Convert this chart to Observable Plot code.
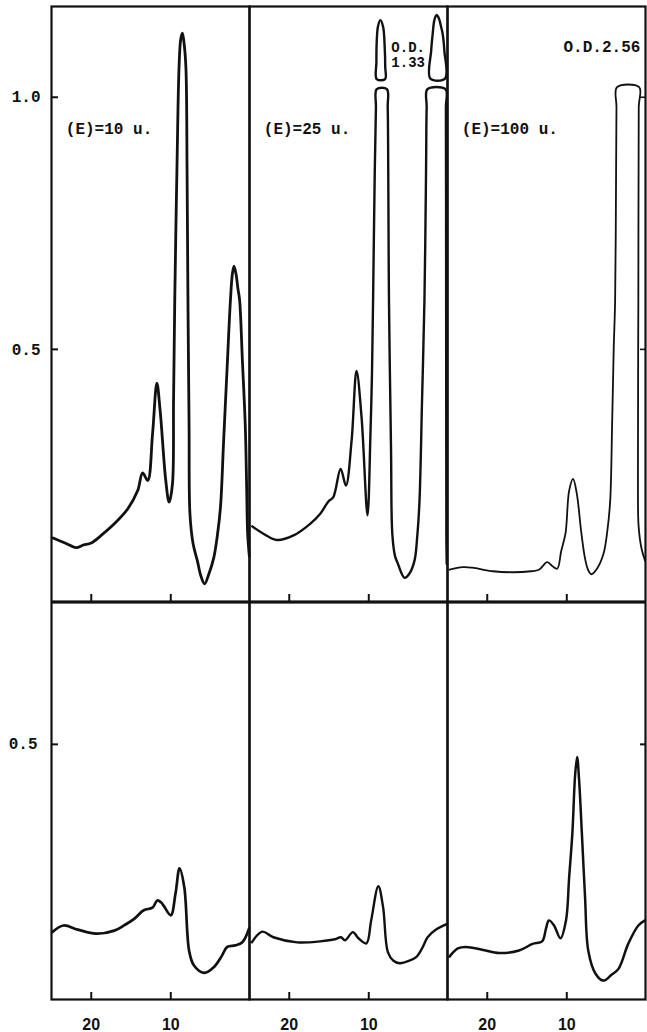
<!DOCTYPE html>
<html><head><meta charset="utf-8">
<script src="https://cdn.jsdelivr.net/npm/d3@7"></script>
<script src="https://cdn.jsdelivr.net/npm/@observablehq/plot@0.6"></script>
<style>
html,body{margin:0;padding:0;background:#fff;}
#chart svg{display:block;}
</style></head><body><div id="chart"></div>
<script>
// Panels (enzyme amount)
const panels = ["(E)=10 u.", "(E)=25 u.", "(E)=100 u."];
const xTicks = [20, 10];
const topYTicks = [0.5, 1.0];
const bottomYTicks = [0.5];
const odLabel25 = ["O.D.\n1.33"];
const odLabel100 = ["O.D.2.56"];

// Top row: [fraction, O.D.]
const topA = [[24.8,0.126],[23.3,0.116],[21.9,0.107],[21.0,0.112],[20.0,0.116],[18.75,0.131],[17.1,0.154],[15.4,0.184],[14.16,0.22],[13.54,0.255],[12.9,0.24],[12.29,0.333],[11.75,0.433],[11.34,0.379],[10.63,0.24],[10.21,0.197],[9.79,0.233],[9.65,0.4],[9.5,0.597],[9.2,0.88],[8.96,1.06],[8.75,1.115],[8.54,1.127],[8.35,1.11],[8.1,1.06],[7.95,0.85],[7.84,0.597],[7.7,0.35],[7.59,0.174],[7.2,0.115],[6.66,0.081],[6.2,0.05],[5.75,0.035],[5.2,0.055],[4.59,0.087],[4.15,0.13],[3.75,0.187],[3.35,0.32],[2.91,0.465],[2.5,0.597],[2.25,0.65],[2.05,0.665],[1.8,0.65],[1.55,0.62],[1.34,0.597],[1.0,0.48],[0.625,0.346],[0.45,0.22],[0.33,0.134],[0.12,0.09]];
const topB = [[24.66,0.149],[23.2,0.134],[21.54,0.122],[19.46,0.131],[17.375,0.154],[16.1,0.174],[15.1,0.198],[14.46,0.207],[13.54,0.263],[12.875,0.23],[12.16,0.319],[11.54,0.457],[10.91,0.366],[10.16,0.171],[9.79,0.333],[9.6,0.45],[9.46,0.597],[9.25,0.85],[9.1,0.98],[9.0,1.016],[7.72,1.016],[7.62,0.98],[7.55,0.85],[7.46,0.597],[7.2,0.3],[7.04,0.134],[6.7,0.09],[6.34,0.075],[5.5,0.047],[4.9,0.055],[4.25,0.081],[3.9,0.13],[3.625,0.198],[3.3,0.4],[3.0,0.597],[2.8,0.85],[2.72,0.98],[2.62,1.016],[0.35,1.016],[0.3,0.98],[0.28,0.8],[0.26,0.4],[0.24,0.12],[0.2,0.075]];
const topC = [[24.75,0.063],[23.1,0.068],[21.9,0.067],[19.3,0.06],[16.8,0.058],[14.5,0.06],[13.5,0.063],[12.46,0.078],[11.8,0.07],[11.2,0.065],[10.7,0.1],[10.16,0.135],[9.7,0.22],[9.21,0.243],[8.75,0.215],[8.16,0.135],[7.7,0.085],[7.3,0.062],[6.91,0.054],[6.2,0.065],[5.375,0.095],[4.9,0.14],[4.54,0.2],[4.3,0.35],[4.1,0.5],[3.92,0.597],[3.8,0.85],[3.75,0.98],[3.68,1.02],[0.9,1.02],[0.95,0.98],[1.0,0.6],[1.05,0.25],[0.97,0.15],[0.6,0.105],[0.16,0.081]];

// Off-scale peak tips (recorder re-zeroed), panel (E)=25 u.
const tipA = [[9.0,1.036],[9.04,1.07],[9.0,1.11],[8.85,1.14],[8.55,1.153],[8.2,1.14],[8.0,1.1],[7.93,1.06],[7.95,1.036]];
const tipB = [[2.25,1.037],[2.15,1.093],[1.96,1.126],[1.75,1.153],[1.46,1.163],[1.15,1.155],[0.91,1.14],[0.71,1.126],[0.5,1.093],[0.41,1.037]];

// Bottom row
const botA = [[24.9,0.132],[23.5,0.145],[21.7,0.137],[19.4,0.129],[17.1,0.135],[15.8,0.146],[14.6,0.158],[13.4,0.175],[12.3,0.18],[11.7,0.194],[11.2,0.19],[10.9,0.184],[10.0,0.165],[9.4,0.208],[8.9,0.257],[8.3,0.22],[7.7,0.096],[7.1,0.067],[5.8,0.052],[4.6,0.063],[3.6,0.085],[2.9,0.103],[1.9,0.106],[1.0,0.112],[0.15,0.139]];
const botB = [[24.7,0.112],[23.4,0.133],[22.0,0.122],[19.0,0.112],[16.1,0.114],[14.25,0.118],[13.5,0.122],[13.0,0.116],[12.0,0.132],[11.3,0.12],[10.3,0.11],[9.7,0.155],[8.8,0.222],[8.2,0.181],[7.6,0.093],[6.9,0.076],[6.1,0.071],[4.9,0.076],[4.04,0.083],[3.3,0.1],[2.6,0.122],[1.54,0.137],[0.15,0.148]];
const botC = [[24.75,0.084],[23.7,0.1],[22.7,0.103],[20.5,0.097],[18.5,0.091],[16.0,0.096],[14.3,0.109],[13.1,0.114],[12.6,0.14],[12.25,0.155],[11.6,0.145],[10.8,0.12],[10.1,0.155],[9.7,0.24],[9.3,0.325],[8.95,0.44],[8.7,0.475],[8.45,0.43],[8.1,0.325],[7.7,0.2],[7.3,0.096],[6.4,0.051],[5.4,0.037],[4.4,0.048],[3.5,0.06],[2.25,0.11],[1.0,0.145],[0.16,0.155]];

// ---- build tables ----
const toRows = (arr, panel, extra = {}) => arr.map(([x, y]) => ({panel, x, y, ...extra}));
const topData = [...toRows(topA, panels[0]), ...toRows(topB, panels[1]), ...toRows(topC, panels[2])];
const tipData = [...toRows(tipA, panels[1], {tip: "a"}), ...toRows(tipB, panels[1], {tip: "b"})];
const botData = [...toRows(botA, panels[0]), ...toRows(botB, panels[1]), ...toRows(botC, panels[2])];

const topWidths = [2.8, 2.4, 1.8];
const botWidths = [2.7, 2.4, 2.5];
const mono = "'Liberation Mono', 'DejaVu Sans Mono', monospace";
const sans = "'Liberation Sans', Arial, sans-serif";
const ink = "#111";

const topPlot = Plot.plot({
  width: 647, height: 602,
  marginLeft: 50, marginRight: 1, marginTop: 6, marginBottom: 1,
  x: {domain: [25, 0.1], axis: null},
  y: {domain: [0, 1.18], axis: null},
  fx: {domain: panels, padding: 0, axis: null},
  style: {background: "#fff", color: ink},
  marks: [
    Plot.frame({stroke: ink, strokeWidth: 2.2}),
    Plot.axisX({ticks: xTicks, tickSize: -7, tickFormat: () => "", strokeWidth: 2, label: null}),
    Plot.axisY({ticks: topYTicks, anchor: "left", tickSize: -7, tickPadding: 18, tickFormat: d => d.toFixed(1),
      fontFamily: mono, fontWeight: "bold", fontSize: 16, strokeWidth: 2, label: null}),
    Plot.axisY({ticks: topYTicks, anchor: "right", tickSize: -6, tickFormat: () => "", strokeWidth: 1.6, label: null}),
    Plot.text(panels, {fx: d => d, x: 23.2, y: 0.938, text: d => d, textAnchor: "start",
      fontFamily: mono, fontWeight: "bold", fontSize: 16, fill: ink}),
    Plot.text(odLabel25, {fx: () => panels[1], x: 7.16, y: 1.085, text: d => d, textAnchor: "start", lineAnchor: "middle",
      lineHeight: 1.1, fontFamily: mono, fontWeight: "bold", fontSize: 14, fill: ink}),
    Plot.text(odLabel100, {fx: () => panels[2], x: 0.75, y: 1.1, text: d => d, textAnchor: "end",
      fontFamily: mono, fontWeight: "bold", fontSize: 16, fill: ink}),
    Plot.line(topData, {x: "x", y: "y", fx: "panel", z: "panel", curve: "catmull-rom", stroke: ink,
      strokeWidth: d => topWidths[panels.indexOf(d.panel)], strokeLinejoin: "round"}),
    Plot.line(tipData, {x: "x", y: "y", fx: "panel", z: "tip", curve: "catmull-rom-closed", stroke: ink, strokeWidth: 2.4})
  ]
});

const bottomPlot = Plot.plot({
  width: 647, height: 430,
  marginLeft: 50, marginRight: 1, marginTop: 0, marginBottom: 33,
  x: {domain: [25, 0.1], axis: null},
  y: {domain: [0, 0.778], axis: null},
  fx: {domain: panels, padding: 0, axis: null},
  style: {background: "#fff", color: ink},
  marks: [
    Plot.frame({stroke: ink, strokeWidth: 2.2}),
    Plot.axisX({ticks: xTicks, tickSize: -7, tickPadding: 26, tickFormat: d => String(d),
      fontFamily: sans, fontWeight: "bold", fontSize: 16, strokeWidth: 2, label: null}),
    Plot.axisY({ticks: bottomYTicks, anchor: "left", tickSize: -7, tickPadding: 21, tickFormat: d => d.toFixed(1),
      fontFamily: mono, fontWeight: "bold", fontSize: 16, strokeWidth: 2, label: null}),
    Plot.axisY({ticks: bottomYTicks, anchor: "right", tickSize: -6, tickFormat: () => "", strokeWidth: 2, label: null}),
    Plot.line(botData, {x: "x", y: "y", fx: "panel", z: "panel", curve: "catmull-rom", stroke: ink,
      strokeWidth: d => botWidths[panels.indexOf(d.panel)], strokeLinejoin: "round"})
  ]
});

document.getElementById("chart").append(topPlot, bottomPlot);
</script>
</body></html>
